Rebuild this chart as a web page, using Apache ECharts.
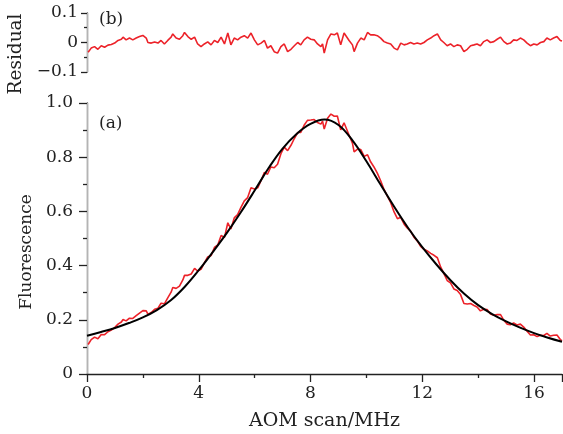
<!DOCTYPE html>
<html>
<head>
<meta charset="utf-8">
<script src="https://cdn.jsdelivr.net/npm/echarts@6/dist/echarts.min.js"></script>
<style>html,body{margin:0;padding:0;background:#fff}#c{width:563px;height:434px}</style>
</head>
<body>
<div id="c"></div>
<script>
// Fitted curve (black), x in MHz
var fitX = [0,0.5,1,1.5,2,2.5,3,3.5,4,4.5,5,5.5,6,6.5,7,7.5,8,8.5,9,9.5,10,10.5,11,11.5,12,12.5,13,13.5,14,14.5,15,15.5,16,16.5,17];
var fitY = [0.141,0.155,0.170,0.188,0.209,0.236,0.272,0.322,0.383,0.450,0.520,0.596,0.677,0.760,0.832,0.886,0.923,0.939,0.919,0.862,0.785,0.700,0.616,0.538,0.468,0.405,0.347,0.296,0.254,0.221,0.194,0.171,0.151,0.134,0.119];

// Measured samples (red), x in MHz
var dataX = [0.04,0.15,0.27,0.39,0.51,0.63,0.75,0.87,0.99,1.11,
1.23,1.29,1.40,1.52,1.64,1.76,1.88,2.00,2.12,2.18,
2.30,2.42,2.54,2.65,2.77,2.89,3.01,3.07,3.19,3.31,
3.43,3.49,3.61,3.73,3.85,3.96,4.08,4.20,4.32,4.44,
4.56,4.68,4.80,4.92,5.04,5.15,5.27,5.39,5.51,5.63,
5.75,5.87,5.99,6.11,6.23,6.35,6.46,6.58,6.70,6.82,
6.94,7.06,7.18,7.30,7.42,7.54,7.65,7.77,7.89,8.01,
8.13,8.25,8.37,8.43,8.49,8.61,8.73,8.85,8.96,9.08,
9.20,9.26,9.38,9.50,9.56,9.68,9.80,9.92,10.04,10.15,
10.27,10.39,10.51,10.63,10.75,10.87,10.99,11.11,11.23,11.35,
11.46,11.58,11.70,11.82,11.94,12.06,12.18,12.30,12.42,12.54,
12.66,12.77,12.89,13.01,13.13,13.25,13.37,13.49,13.61,13.73,
13.85,13.96,14.08,14.20,14.32,14.44,14.56,14.68,14.80,14.92,
15.04,15.15,15.27,15.39,15.51,15.63,15.75,15.87,15.99,16.11,
16.23,16.35,16.46,16.58,16.70,16.82,16.94,17.00];

var fluorY = [0.109,0.127,0.136,0.130,0.146,0.145,0.156,0.162,0.171,0.184,
0.192,0.201,0.196,0.206,0.205,0.215,0.225,0.234,0.233,0.221,
0.227,0.239,0.243,0.261,0.259,0.281,0.302,0.319,0.316,0.324,
0.347,0.364,0.364,0.369,0.390,0.380,0.386,0.410,0.432,0.437,
0.467,0.476,0.511,0.504,0.558,0.535,0.576,0.588,0.615,0.639,
0.651,0.687,0.683,0.687,0.714,0.744,0.737,0.764,0.761,0.774,
0.813,0.837,0.824,0.844,0.869,0.891,0.891,0.918,0.936,0.937,
0.939,0.928,0.922,0.933,0.904,0.944,0.959,0.951,0.952,0.901,
0.927,0.925,0.881,0.852,0.820,0.830,0.828,0.803,0.809,0.783,
0.764,0.741,0.713,0.681,0.656,0.632,0.598,0.573,0.578,0.553,
0.539,0.527,0.505,0.491,0.471,0.460,0.454,0.445,0.438,0.429,
0.394,0.371,0.345,0.336,0.314,0.308,0.293,0.260,0.258,0.260,
0.253,0.247,0.233,0.239,0.238,0.221,0.217,0.219,0.219,0.198,
0.184,0.182,0.188,0.181,0.184,0.173,0.158,0.144,0.145,0.138,
0.143,0.142,0.150,0.140,0.143,0.144,0.127,0.123];

var residY = [-0.033,-0.019,-0.014,-0.023,-0.011,-0.016,-0.009,-0.007,-0.002,0.007,
0.011,0.018,0.009,0.015,0.009,0.015,0.020,0.024,0.015,0.000,
-0.002,0.002,-0.002,0.007,-0.005,0.007,0.018,0.029,0.015,0.011,
0.023,0.034,0.020,0.011,0.018,-0.005,-0.014,-0.005,0.002,-0.008,
0.007,0.000,0.018,-0.005,0.032,-0.008,0.015,0.009,0.018,0.023,
0.015,0.032,0.009,-0.008,-0.002,0.007,-0.019,-0.011,-0.031,-0.036,
-0.014,-0.005,-0.031,-0.023,-0.011,0.000,-0.008,0.009,0.018,0.011,
0.009,-0.005,-0.014,-0.005,-0.036,0.009,0.029,0.026,0.032,-0.008,
0.032,0.037,0.007,-0.008,-0.031,-0.002,0.015,0.009,0.034,0.026,
0.026,0.023,0.015,0.003,-0.002,-0.005,-0.019,-0.025,-0.002,-0.008,
-0.005,0.000,-0.005,-0.002,-0.005,0.000,0.009,0.015,0.023,0.029,
0.009,0.000,-0.011,-0.005,-0.014,-0.008,-0.011,-0.031,-0.023,-0.011,
-0.008,-0.005,-0.011,0.003,0.009,0.000,0.003,0.011,0.018,0.003,
-0.005,-0.002,0.009,0.007,0.015,0.009,-0.002,-0.011,-0.005,-0.008,
0.000,0.003,0.015,0.009,0.015,0.020,0.007,0.005];

var xTicks = {min: 0, max: 17, interval: 4};
var mainTicks = {min: 0, max: 1, interval: 0.2};
var residTicks = {min: -0.1, max: 0.1, interval: 0.1};

function pairs(xs, ys) { return xs.map(function (x, i) { return [x, ys[i]]; }); }

var FONT = 'DejaVu Serif';
var TXT = '#222';
var RED = '#ec2229';

var chart = echarts.init(document.getElementById('c'), null, {renderer: 'canvas'});
chart.setOption({
  animation: false,
  backgroundColor: '#fff',
  grid: [
    {left: 87, width: 475, top: 13, height: 59, containLabel: false, outerBoundsMode: 'none'},
    {left: 87, width: 475, top: 103, height: 271, containLabel: false, outerBoundsMode: 'none'}
  ],
  xAxis: [
    {gridIndex: 0, type: 'value', min: xTicks.min, max: xTicks.max, interval: xTicks.interval,
     axisLine: {show: false}, axisTick: {show: false}, axisLabel: {show: false}, splitLine: {show: false}},
    {gridIndex: 1, type: 'value', min: xTicks.min, max: xTicks.max, interval: xTicks.interval,
     axisLine: {onZero: false, lineStyle: {color: TXT, width: 1.3}},
     axisTick: {length: 8, lineStyle: {color: TXT, width: 1.3}},
     minorTick: {show: true, splitNumber: 2, length: 4, lineStyle: {color: TXT, width: 1.3}},
     axisLabel: {margin: 11, color: TXT, fontFamily: FONT, fontSize: 17,
       formatter: function (v) { return v === 17 ? '' : String(v); }},
     splitLine: {show: false},
     name: 'AOM scan/MHz', nameLocation: 'middle', nameGap: 38,
     nameTextStyle: {color: TXT, fontFamily: FONT, fontSize: 19}}
  ],
  yAxis: [
    {gridIndex: 0, type: 'value', min: residTicks.min, max: residTicks.max, interval: residTicks.interval,
     axisLine: {onZero: false, lineStyle: {color: TXT, width: 1.3}},
     axisTick: {length: 6, lineStyle: {color: TXT, width: 1.3}},
     minorTick: {show: true, splitNumber: 2, length: 3, lineStyle: {color: TXT, width: 1.3}},
     axisLabel: {margin: 9, color: TXT, fontFamily: FONT, fontSize: 17,
       formatter: function (v) { if (Math.abs(v) < 1e-9) return '0'; return (v < 0 ? '\u2212' : '') + Math.abs(v).toFixed(1); }},
     splitLine: {show: false},
     name: 'Residual', nameLocation: 'middle', nameGap: 60, nameRotate: 90,
     nameTextStyle: {color: TXT, fontFamily: FONT, fontSize: 18.5, padding: [0, 23, 0, 0]}},
    {gridIndex: 1, type: 'value', min: mainTicks.min, max: mainTicks.max, interval: mainTicks.interval,
     axisLine: {onZero: false, lineStyle: {color: TXT, width: 1.3}},
     axisTick: {length: 8, lineStyle: {color: TXT, width: 1.3}},
     minorTick: {show: true, splitNumber: 2, length: 4, lineStyle: {color: TXT, width: 1.3}},
     axisLabel: {margin: 14, color: TXT, fontFamily: FONT, fontSize: 17,
       formatter: function (v) { return Math.abs(v) < 1e-9 ? '0' : v.toFixed(1); }},
     splitLine: {show: false},
     name: 'Fluorescence', nameLocation: 'middle', nameGap: 50, nameRotate: 90,
     nameTextStyle: {color: TXT, fontFamily: FONT, fontSize: 17, padding: [0, 27, 0, 0]}},
    {gridIndex: 0, type: 'value', position: 'right', min: residTicks.min, max: residTicks.max,
     axisLine: {show: true, lineStyle: {color: '#b4b4b4', width: 1}}, axisTick: {show: false},
     axisLabel: {show: false}, splitLine: {show: false}},
    {gridIndex: 1, type: 'value', position: 'right', min: mainTicks.min, max: mainTicks.max,
     axisLine: {show: true, lineStyle: {color: '#b4b4b4', width: 1}}, axisTick: {show: false},
     axisLabel: {show: false}, splitLine: {show: false}}
  ],
  graphic: [
    {type: 'text', left: 99, top: 11, style: {text: '(b)', font: '17px "DejaVu Serif"', fill: TXT}},
    {type: 'text', left: 99, top: 115, style: {text: '(a)', font: '17px "DejaVu Serif"', fill: TXT}}
  ],
  series: [
    {type: 'line', xAxisIndex: 0, yAxisIndex: 0, data: pairs(dataX, residY), showSymbol: false,
     lineStyle: {color: RED, width: 1.6}, z: 3},
    {type: 'line', xAxisIndex: 1, yAxisIndex: 1, data: pairs(dataX, fluorY), showSymbol: false,
     lineStyle: {color: RED, width: 1.6}, z: 3},
    {type: 'line', xAxisIndex: 1, yAxisIndex: 1, data: pairs(fitX, fitY), showSymbol: false, smooth: 0.4,
     lineStyle: {color: '#000', width: 2}, z: 4}
  ]
});
</script>
</body>
</html>
